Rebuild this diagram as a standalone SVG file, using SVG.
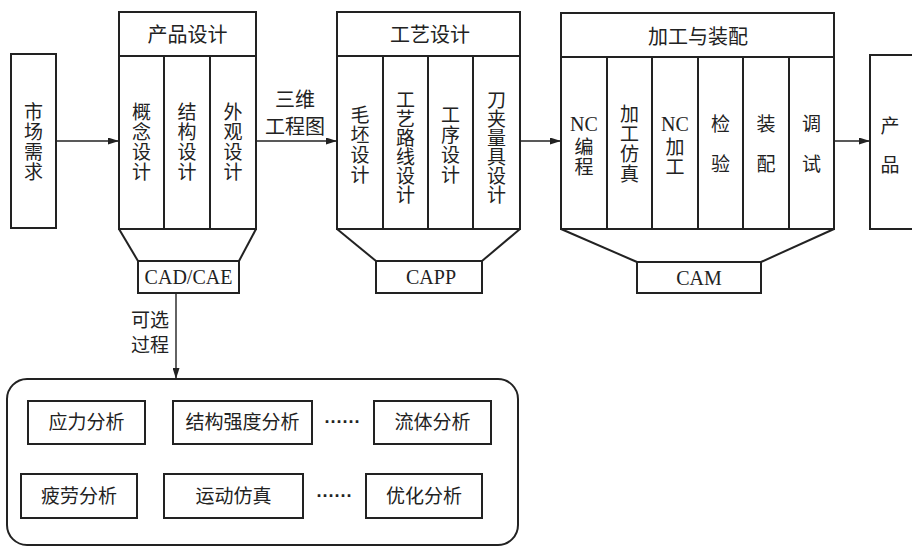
<svg xmlns="http://www.w3.org/2000/svg" width="912" height="547" viewBox="0 0 912 547">
<defs>
<style>
.b{fill:none;stroke:#222;stroke-width:2}
.c{stroke:#222;stroke-width:1.4;fill:none}
.t{font-family:"Noto Sans CJK SC","Noto Sans",sans-serif;font-size:19px;fill:#222;text-anchor:middle}
.h{font-size:20px}
.l{font-family:"Liberation Serif",serif;font-size:20px;fill:#222;text-anchor:middle}
.d{font-family:"Liberation Sans",sans-serif;font-size:18px;font-weight:bold;fill:#222;text-anchor:middle}
</style>
<marker id="ah" markerWidth="11" markerHeight="7" refX="11" refY="3.5" orient="auto" markerUnits="userSpaceOnUse">
<path d="M0,0 L11,3.5 L0,7 z" fill="#222"/>
</marker>
</defs>
<rect width="912" height="547" fill="#fff"/>

<g id="market">
<rect class="b" x="11" y="54" width="45" height="174"/>
<text class="t"><tspan x="33.5" y="119">市</tspan><tspan x="33.5" y="139">场</tspan><tspan x="33.5" y="159">需</tspan><tspan x="33.5" y="179">求</tspan></text>
</g>

<g id="product-design">
<rect class="b" x="119" y="12" width="137" height="217"/>
<line class="b" x1="119" y1="56" x2="256" y2="56"/>
<line class="b" x1="164" y1="56" x2="164" y2="229"/>
<line class="b" x1="210" y1="56" x2="210" y2="229"/>
<text class="t h" x="187.5" y="42">产品设计</text>
<text class="t"><tspan x="141.5" y="119">概</tspan><tspan x="141.5" y="139">念</tspan><tspan x="141.5" y="159">设</tspan><tspan x="141.5" y="179">计</tspan></text>
<text class="t"><tspan x="187" y="119">结</tspan><tspan x="187" y="139">构</tspan><tspan x="187" y="159">设</tspan><tspan x="187" y="179">计</tspan></text>
<text class="t"><tspan x="233" y="119">外</tspan><tspan x="233" y="139">观</tspan><tspan x="233" y="159">设</tspan><tspan x="233" y="179">计</tspan></text>
<line class="b" x1="119" y1="229" x2="138" y2="261"/>
<line class="b" x1="256" y1="229" x2="239" y2="261"/>
</g>

<g id="cad-cae">
<rect class="b" x="138" y="261" width="101" height="32"/>
<text class="l" x="188.5" y="284">CAD/CAE</text>
</g>

<g id="process-design">
<rect class="b" x="337" y="12" width="183" height="217"/>
<line class="b" x1="337" y1="56" x2="520" y2="56"/>
<line class="b" x1="383" y1="56" x2="383" y2="229"/>
<line class="b" x1="428" y1="56" x2="428" y2="229"/>
<line class="b" x1="473" y1="56" x2="473" y2="229"/>
<text class="t h" x="430" y="42">工艺设计</text>
<text class="t"><tspan x="360" y="122">毛</tspan><tspan x="360" y="142">坯</tspan><tspan x="360" y="162">设</tspan><tspan x="360" y="182">计</tspan></text>
<text class="t"><tspan x="405.5" y="107">工</tspan><tspan x="405.5" y="126">艺</tspan><tspan x="405.5" y="145">路</tspan><tspan x="405.5" y="164">线</tspan><tspan x="405.5" y="183">设</tspan><tspan x="405.5" y="202">计</tspan></text>
<text class="t"><tspan x="450.5" y="122">工</tspan><tspan x="450.5" y="142">序</tspan><tspan x="450.5" y="162">设</tspan><tspan x="450.5" y="182">计</tspan></text>
<text class="t"><tspan x="496.5" y="107">刀</tspan><tspan x="496.5" y="126">夹</tspan><tspan x="496.5" y="145">量</tspan><tspan x="496.5" y="164">具</tspan><tspan x="496.5" y="183">设</tspan><tspan x="496.5" y="202">计</tspan></text>
<line class="b" x1="337" y1="229" x2="376" y2="261"/>
<line class="b" x1="520" y1="229" x2="482" y2="261"/>
</g>

<g id="capp">
<rect class="b" x="376" y="261" width="106" height="32"/>
<text class="l" x="431" y="284">CAPP</text>
</g>

<g id="machining">
<rect class="b" x="561" y="13" width="273" height="216"/>
<line class="b" x1="561" y1="57" x2="834" y2="57"/>
<line class="b" x1="607" y1="57" x2="607" y2="229"/>
<line class="b" x1="652" y1="57" x2="652" y2="229"/>
<line class="b" x1="698" y1="57" x2="698" y2="229"/>
<line class="b" x1="743" y1="57" x2="743" y2="229"/>
<line class="b" x1="789" y1="57" x2="789" y2="229"/>
<text class="t h" x="698" y="44">加工与装配</text>
<text class="l" x="584" y="131">NC</text>
<text class="t"><tspan x="584" y="154">编</tspan><tspan x="584" y="174">程</tspan></text>
<text class="t"><tspan x="629.5" y="121">加</tspan><tspan x="629.5" y="141">工</tspan><tspan x="629.5" y="161">仿</tspan><tspan x="629.5" y="181">真</tspan></text>
<text class="l" x="675" y="131">NC</text>
<text class="t"><tspan x="675" y="154">加</tspan><tspan x="675" y="174">工</tspan></text>
<text class="t"><tspan x="720.5" y="131">检</tspan><tspan x="720.5" y="171">验</tspan></text>
<text class="t"><tspan x="766" y="131">装</tspan><tspan x="766" y="171">配</tspan></text>
<text class="t"><tspan x="811.5" y="131">调</tspan><tspan x="811.5" y="171">试</tspan></text>
<line class="b" x1="561" y1="229" x2="637" y2="262"/>
<line class="b" x1="834" y1="229" x2="761" y2="262"/>
</g>

<g id="cam">
<rect class="b" x="637" y="262" width="124" height="31"/>
<text class="l" x="699" y="285">CAM</text>
</g>

<g id="product">
<rect class="b" x="870" y="55" width="60" height="174"/>
<text class="t"><tspan x="890" y="133">产</tspan><tspan x="890" y="172">品</tspan></text>
</g>

<g id="analysis">
<rect class="b" x="7" y="379" width="511" height="166" rx="20" ry="20"/>
<g id="stress"><rect class="b" x="28" y="401" width="117" height="43"/><text class="t" x="86.5" y="429">应力分析</text></g>
<g id="strength"><rect class="b" x="173" y="401" width="139" height="43"/><text class="t" x="242.5" y="429">结构强度分析</text></g>
<text class="d" x="342.5" y="428">······</text>
<g id="fluid"><rect class="b" x="374" y="401" width="117" height="43"/><text class="t" x="432.5" y="429">流体分析</text></g>
<g id="fatigue"><rect class="b" x="21" y="474" width="116" height="44"/><text class="t" x="79" y="503">疲劳分析</text></g>
<g id="motion"><rect class="b" x="164" y="474" width="139" height="44"/><text class="t" x="233.5" y="503">运动仿真</text></g>
<text class="d" x="334.5" y="502">······</text>
<g id="optimize"><rect class="b" x="366" y="474" width="116" height="44"/><text class="t" x="424" y="503">优化分析</text></g>
</g>

<g id="connectors">
<line class="c" x1="56" y1="141" x2="119" y2="141" marker-end="url(#ah)"/>
<line class="c" x1="256" y1="141" x2="337" y2="141" marker-end="url(#ah)"/>
<line class="c" x1="520" y1="141" x2="561" y2="141" marker-end="url(#ah)"/>
<line class="c" x1="834" y1="141" x2="870" y2="141" marker-end="url(#ah)"/>
<line class="c" x1="176" y1="293" x2="176" y2="379" marker-end="url(#ah)"/>
<text class="t h" x="295" y="107">三维</text>
<text class="t h" x="295" y="134">工程图</text>
<text class="t" x="131" y="327" text-anchor="start" style="text-anchor:start">可选</text>
<text class="t" x="131" y="352" style="text-anchor:start">过程</text>
</g>
</svg>
